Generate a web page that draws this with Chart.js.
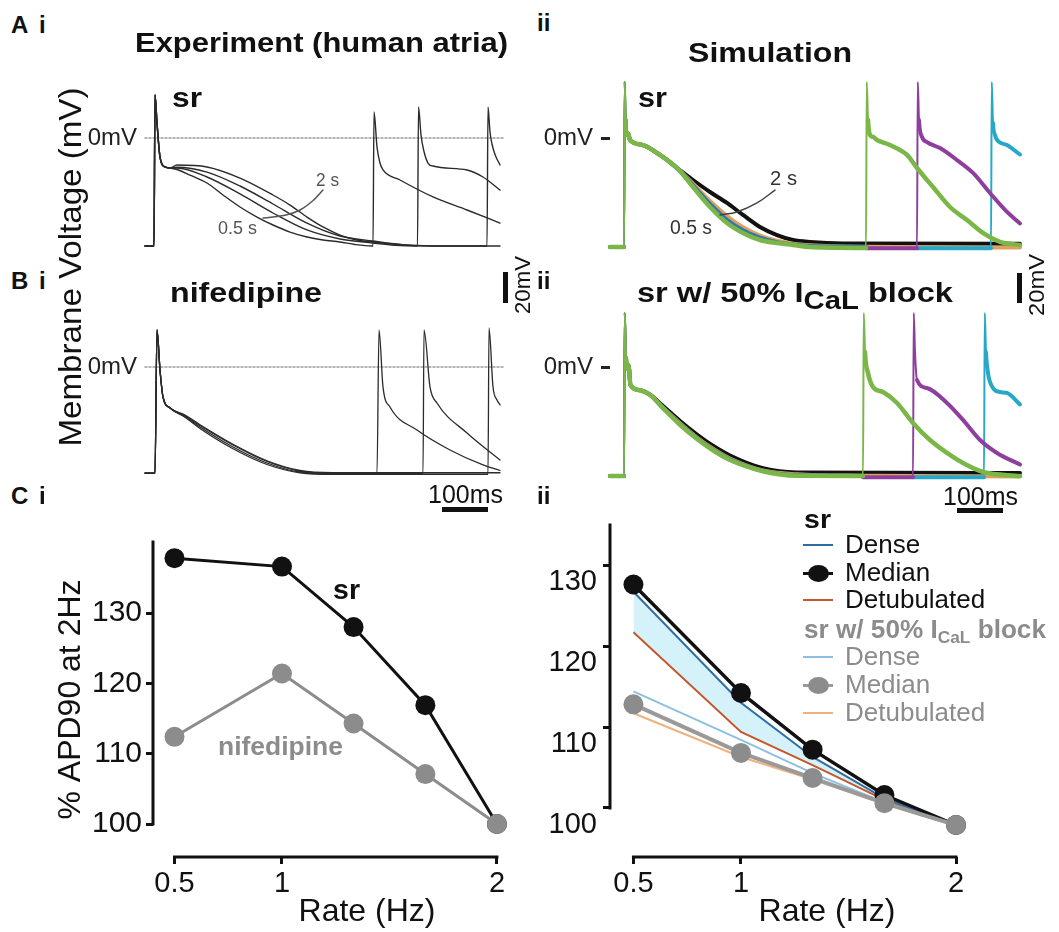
<!DOCTYPE html>
<html>
<head>
<meta charset="utf-8">
<title>APD rate dependence</title>
<script src="https://cdn.jsdelivr.net/npm/chart.js@4.4.1/dist/chart.umd.min.js"></script>
<style>
  html, body { margin: 0; padding: 0; background: #fff; }
  body { position: relative; width: 1059px; height: 932px; overflow: hidden;
         font-family: "Liberation Sans", Arial, Helvetica, sans-serif; color: #111; }
  canvas { position: absolute; }
  .txt { position: absolute; white-space: nowrap; line-height: 1; transform-origin: 0 0; z-index: 5; }
  .vtxt { position: absolute; white-space: nowrap; line-height: 1; z-index: 5; }
  .sub { font-size: 0.9em; position: relative; top: 0.28em; }
  .sub2 { font-size: 0.66em; position: relative; top: 0.3em; }
  .bar, .key { position: absolute; z-index: 5; }
</style>
</head>
<body>
<canvas id="ai" width="437" height="237" style="left:85px;top:48px"></canvas>
<canvas id="bi" width="437" height="237" style="left:85px;top:277px"></canvas>
<canvas id="aii" width="487" height="237" style="left:543px;top:48px"></canvas>
<canvas id="bii" width="487" height="237" style="left:543px;top:277px"></canvas>
<canvas id="ci" width="551" height="432" style="left:40px;top:500px"></canvas>
<canvas id="cii" width="514" height="432" style="left:540px;top:500px"></canvas>
<script>
Chart.defaults.font.family = '"Liberation Sans", Arial, Helvetica, sans-serif';
Chart.defaults.color = '#111';
Chart.defaults.animation = false;

// ---------- APD90 vs rate (panel C) ----------
const rateHz = [0.5, 1, 1.333, 1.667, 2];
const rateTicks = [0.5, 1, 2];
const apdTicks = [100, 110, 120, 130];

const expSr = [137.8, 136.6, 128.0, 116.9, 100];
const expNifedipine = [112.4, 121.4, 114.3, 107.1, 100];

const simSrMedian = [127.6, 114.2, 107.2, 101.6, 97.9];
const simSrDense = [126.7, 113.0, 106.3, 101.2, 97.9];
const simSrDetub = [121.7, 109.4, 105.3, 101.0, 97.8];
const simBlockMedian = [112.8, 106.8, 103.7, 100.6, 97.9];
const simBlockDense = [114.4, 108.4, 104.3, 100.7, 97.9];
const simBlockDetub = [111.7, 106.3, 103.5, 100.5, 97.8];

// ---------- voltage traces [ms, mV] (panels A, B) ----------
// experiment, sr
const expStart = [[0,-72],[16,-72],[18,-72],[20,28.7],[24,10],[30,-12.7],[40,-19.3],[50,-20]];
const expSr05 = [[64,-21],[90,-24.7],[124,-30],[156,-38],[190,-46],[224,-52.7],[256,-58],[290,-62.7],[324,-66],[356,-68],[390,-69.3],[420,-71],[454,-72],[456,-72],[458,17.3],[464,-6],[470,-16.7],[476,-21.3],[510,-28],[576,-39.3],[644,-48],[710,-56.7]];
const expSr1 = [[64,-20],[124,-26],[190,-37.3],[256,-50],[324,-61.3],[390,-67.3],[456,-70],[500,-71.5],[545,-72],[547,20.7],[552,2],[558,-9],[566,-16.7],[576,-18.7],[644,-21.3],[676,-26],[710,-34.7]];
const expSr15 = [[64,-19.5],[124,-22.7],[190,-32],[256,-44],[324,-56.7],[390,-65.3],[456,-68.7],[520,-71.3],[600,-72],[684,-72],[686,20.7],[690,4],[694,-4],[700,-11],[710,-18]];
const expSr2 = [[64,-18],[124,-19.3],[190,-26.7],[256,-38],[290,-44.7],[324,-52.7],[356,-59.3],[390,-64.7],[424,-68],[456,-69.3],[520,-71.3],[600,-72],[710,-72]];
const expArrow = [[356,-34.7],[335,-42],[310,-48],[280,-51.5],[236,-53.3]];

// experiment, nifedipine
const nifStart = [[0,-70.7],[18,-70.7],[20,-70.7],[24,24.7],[30,-2],[36,-20],[50,-27.3]];
const nif1 = [[80,-33],[110,-40],[176,-53.3],[244,-64],[310,-70],[376,-70.7],[462,-70.7],[464,-70.7],[468,24.7],[476,-13.3],[490,-26.7],[544,-42],[610,-55.3],[676,-65.3],[710,-69]];
const nif2 = [[80,-32.5],[110,-39],[176,-52],[244,-63],[310,-69.5],[376,-71],[554,-71],[556,-71],[558,24.7],[570,-13.3],[584,-24],[644,-44],[710,-62]];
const nif3 = [[80,-33.5],[110,-41],[176,-54.5],[244,-65],[310,-70.5],[376,-71.5],[684,-71.5],[686,-71.5],[688,26],[696,-13.3],[704,-22],[710,-25.3]];
const nif4 = [[80,-32],[110,-38.5],[176,-51.5],[244,-62.5],[310,-69],[376,-70.5],[710,-70.5]];

// simulation, sr
const simStart = [[0,-72.7],[26,-72.7],[28,-72.7],[29.5,37.3],[31,12],[33,2],[36,3],[40,-1.3],[66,-4.7],[100,-11.3],[134,-20]];
const simBlack = [[166,-28],[200,-36],[234,-43.3],[266,-51.3],[300,-59.3],[334,-64.7],[366,-68],[400,-69.3],[466,-70.3],[820,-70.5]];
const simOrange = [[166,-30.5],[200,-42],[234,-52],[266,-59.5],[300,-65],[334,-68.5],[366,-70.5],[400,-71.5],[500,-72.5],[820,-73]];
const simBlue = [[166,-31.5],[200,-44],[234,-54.5],[266,-61.5],[300,-66.5],[334,-69.5],[366,-71],[400,-72],[512,-72.5]];
const simGreen = [[166,-32.7],[200,-46],[234,-56.7],[266,-63.3],[300,-68],[334,-70],[366,-71.3],[400,-72.7],[510,-73.3],[512,-73.3],[513.5,37.3],[516,12],[520,2],[526,0.7],[534,-1.3],[560,-4.7],[594,-11.3],[614,-20],[646,-32.7],[680,-46],[714,-54.7],[746,-63.3],[780,-69.3],[820,-71.3]];
const simPurple = [[512,-73.5],[612,-73.5],[614,-73.5],[615.5,37.3],[618,12],[624,0.7],[634,-2.7],[660,-6.7],[694,-14.7],[726,-23.3],[760,-36.7],[794,-49.3],[820,-57]];
const simCyan = [[614,-73.5],[760,-73.5],[762,-73.5],[763.5,37.3],[766,10],[770,2],[774,-1.3],[794,-4.7],[820,-11]];
const simArrow = [[330,-34.7],[294,-43.3],[254,-49.3],[220,-51.3]];

// simulation, sr w/ 50% ICaL block
const blkStart = [[0,-72.7],[26,-72.7],[28,-72.7],[29.5,36],[32,6],[34,-1],[37,1],[41,-12],[60,-15.5],[80,-18.5]];
const blkBlack = [[106,-26],[140,-36],[174,-45],[206,-52.5],[240,-59],[306,-67.5],[374,-70.3],[820,-70.7]];
const blkOrange = [[106,-27],[140,-37.5],[174,-47],[206,-54.5],[240,-61],[306,-69],[374,-71.5],[500,-72.5],[820,-73]];
const blkBlue = [[106,-27.2],[140,-38],[174,-47.5],[206,-55],[240,-61.5],[306,-69.3],[374,-72],[506,-72.5]];
const blkGreen = [[106,-27.5],[140,-38.5],[174,-48],[206,-55.5],[240,-62],[306,-69.5],[374,-72.5],[504,-72.7],[506,-72.7],[507.5,36],[510,10],[516,-4],[526,-13.3],[546,-16.7],[574,-24],[606,-37.3],[640,-48.7],[674,-57.3],[706,-64],[746,-70],[820,-72.7]];
const blkPurple = [[506,-73.5],[604,-73.5],[606,-73.5],[607.5,36],[610,10],[614,-8.7],[634,-14],[674,-24],[706,-35.3],[740,-48.7],[774,-57.3],[820,-65]];
const blkCyan = [[606,-73.5],[746,-73.5],[748,-73.5],[749.5,36],[752,10],[756,-4],[766,-14],[780,-16.7],[794,-17.3],[820,-25]];

const zeroLine = [[0,0],[718,0]];

// ---------- colours ----------
const cExp = '#2b2b2b';
const cGreen = '#7ab648', cPurple = '#8e3f9e', cCyan = '#27a8c8';
const cSimBlack = '#111', cSimOrange = '#e0a15f', cSimBlue = '#2f77b0';
const cSrDense = '#2e6da4', cSrDetub = '#c4572c';
const cBlockDense = '#8cc0e2', cBlockDetub = '#f0b27c', cGrey = '#8c8c8c';

const pts = arr => arr.map(p => ({x: p[0], y: p[1]}));
const xy = (xs, ys) => xs.map((x, i) => ({x: x, y: ys[i]}));

// upstrokes are drawn thinner than the plateau, as in the figure
const thinUpstroke = {
  borderWidth: c => (Math.abs(c.p1.x - c.p0.x) < 3 && Math.abs(c.p1.y - c.p0.y) > 25) ? 2 : undefined
};

function trace(data, color, width, extra) {
  return Object.assign({
    data: pts(data), borderColor: color, borderWidth: width,
    pointRadius: 0, fill: false, clip: 12
  }, extra || {});
}
const simTrace = (data, color, width) => trace(data, color, width, { segment: thinUpstroke });

function traceChart(id, xmax, axisWidth, tickMark, datasets) {
  return new Chart(document.getElementById(id), {
    type: 'line',
    data: { datasets: datasets },
    options: {
      responsive: false, devicePixelRatio: 1, animation: false,
      layout: { padding: { top: 30, bottom: 30, right: 10, left: 0 } },
      plugins: { legend: { display: false }, tooltip: { enabled: false } },
      elements: { line: { cubicInterpolationMode: 'monotone', borderJoinStyle: 'round', borderCapStyle: 'round' } },
      scales: {
        x: { type: 'linear', min: 0, max: xmax, display: false },
        y: {
          min: -78, max: 40,
          afterFit: s => { s.width = axisWidth; },
          afterBuildTicks: s => { s.ticks = [{ value: 0 }]; },
          ticks: { callback: () => '0mV', font: { size: 24 }, color: '#222', padding: 8 },
          grid: { drawOnChartArea: false, drawTicks: tickMark, tickLength: 9, tickWidth: 3, tickColor: '#222' },
          border: { display: false }
        }
      }
    }
  });
}

// Ai: experiment sr
traceChart('ai', 734, 60, false, [
  trace(expArrow, '#555', 1.5, { cubicInterpolationMode: 'default', tension: 0.4 }),
  trace(expStart.concat(expSr05), cExp, 1.4),
  trace(expStart.concat(expSr1), cExp, 1.4),
  trace(expStart.concat(expSr15), cExp, 1.4),
  trace(expStart.concat(expSr2), cExp, 1.4),
  trace(zeroLine, '#9c9c9c', 1.5, { borderDash: [2, 2] })
]);

// Bi: experiment nifedipine
traceChart('bi', 734, 60, false, [
  trace(nifStart.concat(nif1), cExp, 1.3),
  trace(nifStart.concat(nif2), cExp, 1.3),
  trace(nifStart.concat(nif3), cExp, 1.3),
  trace(nifStart.concat(nif4), cExp, 1.3),
  trace(zeroLine, '#9c9c9c', 1.5, { borderDash: [2, 2] })
]);

// Aii: simulation sr
traceChart('aii', 820, 67, true, [
  trace(simArrow, '#444', 1.5, { cubicInterpolationMode: 'default', tension: 0.4 }),
  simTrace(simStart.concat(simGreen), cGreen, 4.5),
  simTrace(simPurple, cPurple, 4),
  simTrace(simCyan, cCyan, 4),
  simTrace(simStart.concat(simBlue), cSimBlue, 4),
  simTrace(simStart.concat(simOrange), cSimOrange, 4),
  simTrace(simStart.concat(simBlack), cSimBlack, 4)
]);

// Bii: simulation sr w/ 50% ICaL block
traceChart('bii', 820, 67, true, [
  simTrace(blkStart.concat(blkGreen), cGreen, 4.5),
  simTrace(blkPurple, cPurple, 4),
  simTrace(blkCyan, cCyan, 4),
  simTrace(blkStart.concat(blkBlue), cSimBlue, 4),
  simTrace(blkStart.concat(blkOrange), cSimOrange, 4),
  simTrace(blkStart.concat(blkBlack), cSimBlack, 4)
]);

// axis lines that stop at the first/last tick
const detachedAxes = {
  id: 'detachedAxes',
  beforeDatasetsDraw(chart) {
    const { ctx, chartArea: a, scales: { x, y } } = chart;
    ctx.save();
    ctx.strokeStyle = '#111';
    ctx.lineWidth = 3;
    ctx.lineCap = 'square';
    ctx.beginPath();
    ctx.moveTo(a.left, y.getPixelForValue(apdTicks[0]));
    ctx.lineTo(a.left, a.top);
    ctx.moveTo(x.getPixelForValue(rateTicks[0]), a.bottom);
    ctx.lineTo(x.getPixelForValue(rateTicks[rateTicks.length - 1]), a.bottom);
    ctx.stroke();
    ctx.restore();
  }
};

function rateChart(id, o) {
  return new Chart(document.getElementById(id), {
    type: 'line',
    data: { datasets: o.datasets },
    plugins: [detachedAxes],
    options: {
      responsive: false, devicePixelRatio: 1, animation: false,
      layout: { padding: { top: o.padTop, right: 0, bottom: 0, left: 0 } },
      plugins: {
        legend: { display: false }, tooltip: { enabled: false },
        filler: { drawTime: 'beforeDatasetsDraw' }
      },
      scales: {
        x: {
          type: 'linear', min: o.xmin, max: o.xmax,
          afterFit: s => { s.height = 75; },
          afterBuildTicks: s => { s.ticks = rateTicks.map(v => ({ value: v })); },
          ticks: { callback: v => String(v), font: { size: 29 }, color: '#111', padding: 3, autoSkip: false, maxRotation: 0 },
          grid: { drawOnChartArea: false, drawTicks: true, tickLength: 7, tickWidth: 3, tickColor: '#111' },
          border: { display: false },
          title: { display: true, text: 'Rate (Hz)', font: { size: 32 }, color: '#111', padding: { top: 0, bottom: 1 } }
        },
        y: {
          min: o.ymin, max: o.ymax,
          afterFit: s => { s.width = o.axisWidth; },
          afterBuildTicks: s => { s.ticks = apdTicks.map(v => ({ value: v })); },
          ticks: { callback: v => String(v), font: { size: o.tickSize }, color: '#111', padding: o.tickPad, labelOffset: o.labelOffset },
          grid: { drawOnChartArea: false, drawTicks: true, tickLength: 7, tickWidth: 3, tickColor: '#111' },
          border: { display: false },
          title: { display: !!o.yTitle, text: o.yTitle || '', font: { size: 32 }, color: '#111', padding: { top: 12, bottom: 0 } }
        }
      }
    }
  });
}

function medianSet(ys, line, dot, width) {
  return { data: xy(rateHz, ys), borderColor: line, borderWidth: width, pointRadius: 10,
           pointBackgroundColor: dot, pointBorderWidth: 0, pointHoverRadius: 10, fill: false };
}
function plainSet(ys, color, extra) {
  return Object.assign({ data: xy(rateHz, ys), borderColor: color, borderWidth: 2, pointRadius: 0, fill: false }, extra || {});
}

// Ci: experiment
rateChart('ci', {
  xmin: 0.4, xmax: 2.391, ymin: 95.31, ymax: 140.1, padTop: 42, axisWidth: 113,
  tickSize: 30, tickPad: 4, labelOffset: 0, yTitle: '% APD90 at 2Hz',
  datasets: [
    medianSet(expNifedipine, cGrey, cGrey, 3),
    medianSet(expSr, '#111', '#111', 3)
  ]
});

// Cii: simulation
rateChart('cii', {
  xmin: 0.391, xmax: 2.409, ymin: 93.95, ymax: 134.94, padTop: 25, axisWidth: 70,
  tickSize: 29, tickPad: 6, labelOffset: 17,
  datasets: [
    medianSet(simBlockMedian, '#9a9a9a', cGrey, 4),
    medianSet(simSrMedian, '#111', '#111', 3.5),
    plainSet(simSrDense, cSrDense),
    plainSet(simBlockDense, cBlockDense),
    plainSet(simBlockDetub, cBlockDetub),
    plainSet(simSrDetub, cSrDetub, { fill: 2, backgroundColor: 'rgba(206,240,249,0.85)' })
  ]
});

// ---------- text ----------
function addText(o) {
  const d = document.createElement('div');
  d.className = 'txt';
  d.innerHTML = o.t;
  d.style.fontSize = o.s + 'px';
  d.style.fontWeight = o.b ? 'bold' : 'normal';
  d.style.color = o.c || '#111';
  d.style.left = o.x + 'px';
  d.style.top = (o.y - 0.8465 * o.s) + 'px';
  document.body.appendChild(d);
  if (o.w) {
    const k = o.w / d.getBoundingClientRect().width;
    d.style.transform = 'scaleX(' + k.toFixed(3) + ')';
  }
}
function addVText(o) {
  const d = document.createElement('div');
  d.className = 'vtxt';
  d.textContent = o.t;
  d.style.fontSize = o.s + 'px';
  d.style.left = o.cx + 'px';
  d.style.top = o.cy + 'px';
  document.body.appendChild(d);
  const k = o.w / d.getBoundingClientRect().width;
  d.style.transform = 'translate(-50%,-50%) rotate(-90deg) scaleX(' + k.toFixed(3) + ')';
}

[
  { t: 'A', x: 11, y: 33, s: 24, b: 1 }, { t: 'i', x: 39, y: 33, s: 24, b: 1 },
  { t: 'ii', x: 537, y: 31, s: 24, b: 1 },
  { t: 'B', x: 11, y: 289, s: 24, b: 1 }, { t: 'i', x: 39, y: 289, s: 24, b: 1 },
  { t: 'ii', x: 537, y: 289, s: 24, b: 1 },
  { t: 'C', x: 11, y: 504, s: 24, b: 1 }, { t: 'i', x: 39, y: 504, s: 24, b: 1 },
  { t: 'ii', x: 537, y: 504, s: 24, b: 1 },
  { t: 'Experiment (human atria)', x: 135, y: 53, s: 28, b: 1, w: 373 },
  { t: 'Simulation', x: 688, y: 63, s: 28, b: 1, w: 164 },
  { t: 'sr', x: 172, y: 108, s: 28, b: 1, w: 30 },
  { t: 'sr', x: 638, y: 108, s: 28, b: 1, w: 29 },
  { t: 'nifedipine', x: 170, y: 303, s: 28, b: 1, w: 152 },
  { t: 'sr w/ 50% I<span class="sub">CaL</span> block', x: 637, y: 303, s: 28, b: 1, w: 316 },
  { t: '2 s', x: 316, y: 186, s: 18, c: '#555', w: 23 },
  { t: '0.5 s', x: 218, y: 234, s: 18, c: '#555', w: 39 },
  { t: '2 s', x: 770, y: 185, s: 20, c: '#333', w: 27 },
  { t: '0.5 s', x: 670, y: 234, s: 20, c: '#333', w: 42 },
  { t: '100ms', x: 428, y: 503, s: 25, w: 75 },
  { t: '100ms', x: 943, y: 505, s: 25, w: 75 },
  { t: 'sr', x: 333, y: 600, s: 28, b: 1, w: 27 },
  { t: 'nifedipine', x: 218, y: 755, s: 26, b: 1, c: cGrey, w: 125 }
].forEach(addText);

[
  { t: 'Membrane Voltage (mV)', cx: 70, cy: 267, s: 32, w: 359 },
  { t: '20mV', cx: 523, cy: 285, s: 22, w: 58 },
  { t: '20mV', cx: 1037, cy: 285, s: 22, w: 62 }
].forEach(addVText);

// scale bars
[
  { x: 503, y: 272, w: 5, h: 31 }, { x: 1017, y: 273, w: 5, h: 30 },
  { x: 442, y: 507, w: 46, h: 5 }, { x: 957, y: 508, w: 46, h: 5 }
].forEach(b => {
  const d = document.createElement('div');
  d.className = 'bar';
  d.style.cssText += 'left:' + b.x + 'px;top:' + b.y + 'px;width:' + b.w + 'px;height:' + b.h + 'px;background:#111';
  document.body.appendChild(d);
});

// Cii legend
const ciiKey = [
  { head: 'sr', y: 528, color: '#111', w: 27 },
  { text: 'Dense', y: 545, line: cSrDense, lw: 2.5, color: '#111' },
  { text: 'Median', y: 573, line: '#111', lw: 3, dot: '#111', color: '#111' },
  { text: 'Detubulated', y: 600, line: cSrDetub, lw: 2.5, color: '#111' },
  { head: 'sr w/ 50% I<span class="sub2">CaL</span> block', y: 638, color: cGrey, w: 242 },
  { text: 'Dense', y: 657, line: cBlockDense, lw: 2.5, color: cGrey },
  { text: 'Median', y: 685, line: '#9a9a9a', lw: 3, dot: cGrey, color: cGrey },
  { text: 'Detubulated', y: 713, line: cBlockDetub, lw: 2.5, color: cGrey }
];
ciiKey.forEach(k => {
  if (k.head) {
    addText({ t: k.head, x: 804, y: k.y, s: 26, b: 1, c: k.color, w: k.w });
    return;
  }
  const l = document.createElement('div');
  l.className = 'key';
  l.style.cssText += 'left:803px;width:30px;top:' + (k.y - k.lw / 2) + 'px;height:' + k.lw + 'px;background:' + k.line;
  document.body.appendChild(l);
  if (k.dot) {
    const d = document.createElement('div');
    d.className = 'key';
    d.style.cssText += 'left:808px;width:21px;top:' + (k.y - 8.5) + 'px;height:17px;border-radius:50%;background:' + k.dot;
    document.body.appendChild(d);
  }
  addText({ t: k.text, x: 845, y: k.y + 8, s: 26, c: k.color });
});
</script>
</body>
</html>
